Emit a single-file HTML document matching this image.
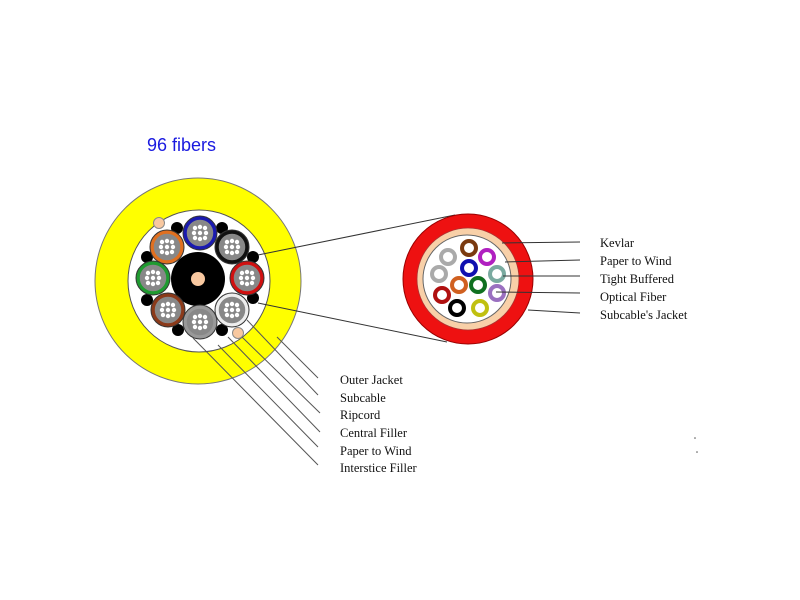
<!DOCTYPE html>
<html><head><meta charset="utf-8"><style>
html,body{margin:0;padding:0;background:#fff;width:800px;height:600px;overflow:hidden}
svg{display:block}
.l{font-family:"Liberation Serif",serif;font-size:12.5px;fill:#111}
</style></head><body>
<svg width="800" height="600" viewBox="0 0 800 600" xmlns="http://www.w3.org/2000/svg">
<text x="147" y="151" font-family="Liberation Sans, sans-serif" font-size="18" fill="#1a1ae0">96 fibers</text>

<!-- big cable -->
<circle cx="198" cy="281" r="103" fill="#ffff00" stroke="#777" stroke-width="1"/>
<circle cx="199" cy="281" r="71" fill="#fff" stroke="#555" stroke-width="1"/>
<g fill="#000">
<circle cx="177" cy="228" r="6"/><circle cx="222" cy="228" r="6"/>
<circle cx="147" cy="257" r="6"/><circle cx="253" cy="257" r="6"/>
<circle cx="147" cy="300" r="6"/><circle cx="253" cy="298" r="6"/>
<circle cx="178" cy="330" r="6"/><circle cx="222" cy="330" r="6"/>
</g>
<circle cx="159" cy="223" r="5.5" fill="#f8c8a0" stroke="#888"/>
<circle cx="238" cy="333" r="5.5" fill="#f8c8a0" stroke="#888"/>
<circle cx="198" cy="279" r="27" fill="#000"/>
<circle cx="198" cy="279" r="7" fill="#f8c8a0"/>
<g stroke-width="3.5">
<circle cx="200" cy="233" r="15" fill="#888" stroke="#1a1ab0"/>
<circle cx="232" cy="247" r="15" fill="#888" stroke="#111"/>
<circle cx="247" cy="278" r="15" fill="#888" stroke="#d01010"/>
<circle cx="232" cy="310" r="15" fill="#888" stroke="#eee"/>
<circle cx="200" cy="322" r="15" fill="#888" stroke="#999"/>
<circle cx="168" cy="310" r="15" fill="#888" stroke="#8b3a1a"/>
<circle cx="153" cy="278" r="15" fill="#888" stroke="#1f9a30"/>
<circle cx="167" cy="247" r="15" fill="#888" stroke="#e07020"/>
</g>
<g fill="none" stroke="#333" stroke-width="1">
<circle cx="200" cy="233" r="17"/><circle cx="232" cy="247" r="17"/><circle cx="247" cy="278" r="17"/>
<circle cx="232" cy="310" r="17"/><circle cx="200" cy="322" r="17"/><circle cx="168" cy="310" r="17"/>
<circle cx="153" cy="278" r="17"/><circle cx="167" cy="247" r="17"/>
</g>
<defs>
<g id="f" fill="#fff"><circle cx="-5" cy="-5" r="2.2"/><circle cx="0" cy="-6" r="2.2"/><circle cx="5" cy="-5" r="2.2"/><circle cx="-6" cy="0" r="2.2"/><circle cx="0" cy="0" r="2.2"/><circle cx="6" cy="0" r="2.2"/><circle cx="-5" cy="5" r="2.2"/><circle cx="0" cy="6" r="2.2"/><circle cx="5" cy="5" r="2.2"/></g>
</defs>
<use href="#f" x="200" y="233"/><use href="#f" x="232" y="247"/><use href="#f" x="247" y="278"/>
<use href="#f" x="232" y="310"/><use href="#f" x="200" y="322"/><use href="#f" x="168" y="310"/>
<use href="#f" x="153" y="278"/><use href="#f" x="167" y="247"/>

<!-- cone lines -->
<line x1="258" y1="255" x2="455" y2="215" stroke="#333" stroke-width="1"/>
<line x1="258" y1="303" x2="447" y2="342" stroke="#333" stroke-width="1"/>

<!-- small cable -->
<circle cx="468" cy="279" r="65" fill="#ee1111" stroke="#900" stroke-width="1"/>
<circle cx="468" cy="279" r="51" fill="#f8d0a8" stroke="#a33" stroke-width="0.8"/>
<circle cx="467" cy="279" r="44" fill="#fff" stroke="#666" stroke-width="1"/>
<g fill="#fff" stroke-width="4">
<circle cx="469" cy="248" r="7" stroke="#7a3a10"/>
<circle cx="487" cy="257" r="7" stroke="#b020c0"/>
<circle cx="448" cy="257" r="7" stroke="#aaa"/>
<circle cx="469" cy="268" r="7" stroke="#1010b0"/>
<circle cx="439" cy="274" r="7" stroke="#aaa"/>
<circle cx="497" cy="274" r="7" stroke="#7aaaa0"/>
<circle cx="459" cy="285" r="7" stroke="#d06020"/>
<circle cx="478" cy="285" r="7" stroke="#107020"/>
<circle cx="442" cy="295" r="7" stroke="#b01010"/>
<circle cx="497" cy="293" r="7" stroke="#9a70c0"/>
<circle cx="457" cy="308" r="7" stroke="#000"/>
<circle cx="480" cy="308" r="7" stroke="#c0c010"/>
</g>

<!-- right labels -->
<g stroke="#333" stroke-width="1">
<line x1="502" y1="243" x2="580" y2="242"/>
<line x1="505" y1="262" x2="580" y2="260"/>
<line x1="503" y1="276" x2="580" y2="276"/>
<line x1="496" y1="292" x2="580" y2="293"/>
<line x1="528" y1="310" x2="580" y2="313"/>
</g>
<text class="l" x="600" y="247">Kevlar</text>
<text class="l" x="600" y="265">Paper to Wind</text>
<text class="l" x="600" y="283">Tight Buffered</text>
<text class="l" x="600" y="301">Optical Fiber</text>
<text class="l" x="600" y="319">Subcable's Jacket</text>

<!-- bottom labels -->
<g stroke="#555" stroke-width="1">
<line x1="277" y1="337" x2="318" y2="378"/>
<line x1="247" y1="320" x2="318" y2="395"/>
<line x1="242" y1="337" x2="320" y2="413"/>
<line x1="228" y1="337" x2="320" y2="432"/>
<line x1="218" y1="345" x2="318" y2="447"/>
<line x1="193" y1="338" x2="318" y2="465"/>
</g>
<text class="l" x="340" y="384">Outer Jacket</text>
<text class="l" x="340" y="402">Subcable</text>
<text class="l" x="340" y="419">Ripcord</text>
<text class="l" x="340" y="437">Central Filler</text>
<text class="l" x="340" y="455">Paper to Wind</text>
<text class="l" x="340" y="472">Interstice Filler</text>

<circle cx="695" cy="438" r="0.8" fill="#555"/>
<circle cx="697" cy="452" r="0.8" fill="#555"/>
</svg>
</body></html>
